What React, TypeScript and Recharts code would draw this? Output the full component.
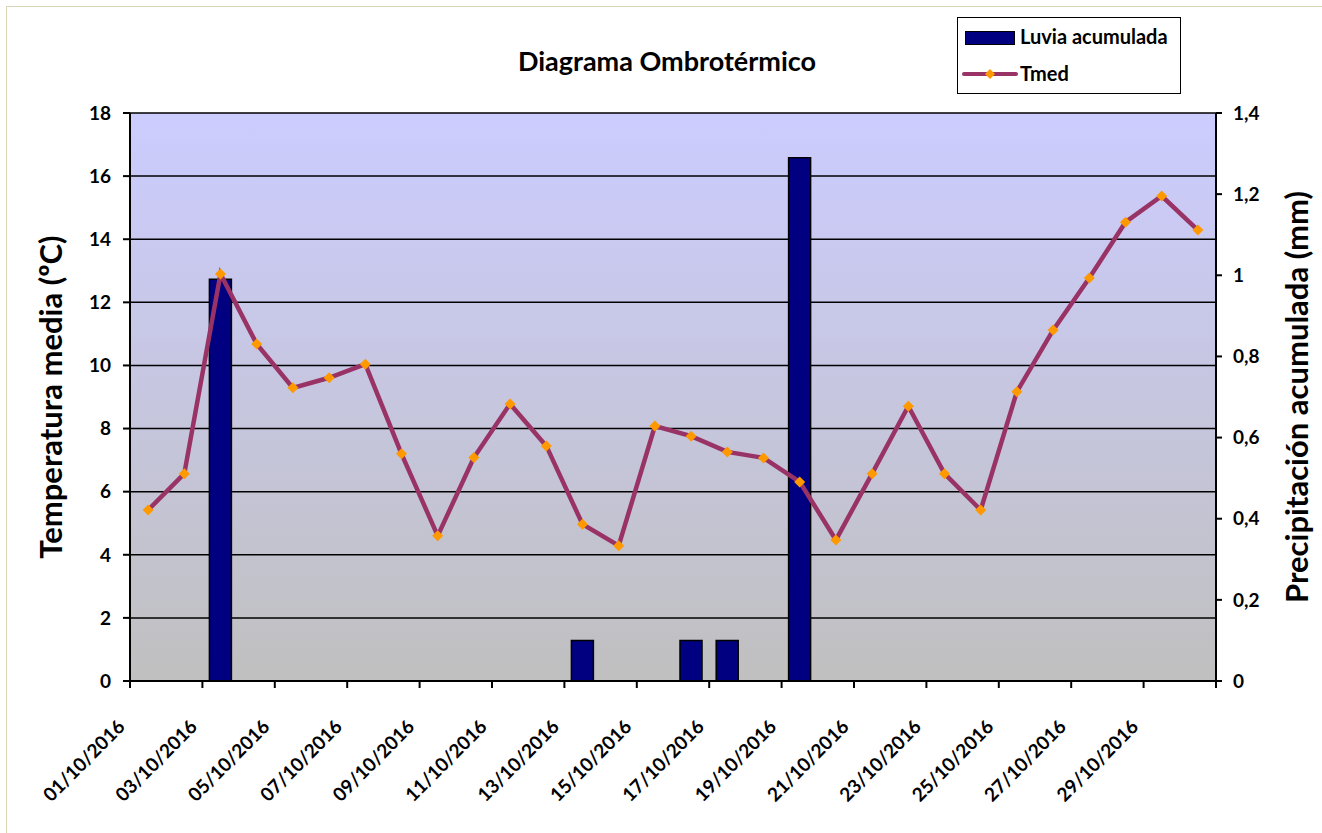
import React from "react";
import {
  ComposedChart,
  Bar,
  Line,
  XAxis,
  YAxis,
  CartesianGrid,
  Legend,
} from "recharts";

const dates = [
  "01/10/2016", "02/10/2016", "03/10/2016", "04/10/2016", "05/10/2016",
  "06/10/2016", "07/10/2016", "08/10/2016", "09/10/2016", "10/10/2016",
  "11/10/2016", "12/10/2016", "13/10/2016", "14/10/2016", "15/10/2016",
  "16/10/2016", "17/10/2016", "18/10/2016", "19/10/2016", "20/10/2016",
  "21/10/2016", "22/10/2016", "23/10/2016", "24/10/2016", "25/10/2016",
  "26/10/2016", "27/10/2016", "28/10/2016", "29/10/2016", "30/10/2016",
];

const tmed = [
  5.42, 6.57, 12.9, 10.68, 9.29, 9.61, 10.04, 7.2, 4.6, 7.08,
  8.78, 7.45, 4.97, 4.29, 8.08, 7.76, 7.26, 7.07, 6.31, 4.47,
  6.57, 8.71, 6.57, 5.42, 9.17, 11.12, 12.77, 14.54, 15.37, 14.29,
];

const lluvia = [
  0, 0, 0.99, 0, 0, 0, 0, 0, 0, 0,
  0, 0, 0.1, 0, 0, 0.1, 0.1, 0, 1.29, 0,
  0, 0, 0, 0, 0, 0, 0, 0, 0, 0,
];

const leftTicks = [0, 2, 4, 6, 8, 10, 12, 14, 16, 18];
const rightTicks = [0, 0.2, 0.4, 0.6, 0.8, 1, 1.2, 1.4];

const data = dates.map((d, i) => ({ date: d, tmed: tmed[i], lluvia: lluvia[i] }));

const FONT = "Lato, 'Open Sans', sans-serif";
const PLOT_LEFT = 130;
const PLOT_TOP = 113;
const PLOT_W = 1086;
const PLOT_H = 568;
const PLOT_BOTTOM = PLOT_TOP + PLOT_H;
const BAND = PLOT_W / dates.length;

const DateTick = (props: any) => {
  const { x, payload } = props;
  const index = props.index ?? payload.index;
  const left = x - BAND / 2;
  const bx = left - 4;
  const by = PLOT_BOTTOM + 47;
  return (
    <g>
      {index % 2 === 0 && (
        <>
          <line x1={left} y1={PLOT_BOTTOM} x2={left} y2={PLOT_BOTTOM + 7} stroke="#000" strokeWidth={2} />
          <text
            x={bx}
            y={by}
            textAnchor="end"
            transform={`rotate(-45, ${bx}, ${by})`}
            fontFamily={FONT}
            fontWeight={700}
            fontSize={19}
            fill="#000"
          >
            {payload.value}
          </text>
        </>
      )}
      {index === dates.length - 1 && (
        <line x1={x + BAND / 2} y1={PLOT_BOTTOM} x2={x + BAND / 2} y2={PLOT_BOTTOM + 7} stroke="#000" strokeWidth={2} />
      )}
    </g>
  );
};

const Diamond = (props: any) => {
  const { cx, cy } = props;
  if (cx == null || cy == null) return null;
  const r = 5.5;
  return (
    <polygon
      points={`${cx},${cy - r} ${cx + r},${cy} ${cx},${cy + r} ${cx - r},${cy}`}
      fill="#FF9900"
    />
  );
};

const renderLegend = () => (
  <div
    style={{
      width: 224,
      height: 77,
      border: "1.5px solid #000",
      background: "#fff",
      boxSizing: "border-box",
      fontFamily: FONT,
      fontWeight: 700,
      fontSize: 20,
      color: "#000",
      position: "relative",
    }}
  >
    <div style={{ position: "absolute", left: 7, top: 13, width: 48, height: 12, background: "#000080", border: "1.5px solid #000" }} />
    <div style={{ position: "absolute", left: 62, top: 6, whiteSpace: "nowrap" }}>Luvia acumulada</div>
    <svg style={{ position: "absolute", left: 4, top: 49 }} width={56} height={14}>
      <line x1={2} y1={7} x2={54} y2={7} stroke="#993366" strokeWidth={4} strokeLinecap="round" />
      <polygon points="28,2 33,7 28,12 23,7" fill="#FF9900" />
    </svg>
    <div style={{ position: "absolute", left: 62, top: 43 }}>Tmed</div>
  </div>
);

export default function App() {
  return (
    <div style={{ position: "fixed", left: 0, top: 0, width: 1322, height: 833, overflow: "hidden", background: "#fff" }}>
      <div style={{ position: "absolute", left: 6, top: 6, width: 1330, height: 840, border: "1px solid #D9D5B9" }} />
      <div
        style={{
          position: "absolute",
          left: PLOT_LEFT,
          top: PLOT_TOP,
          width: PLOT_W,
          height: PLOT_H,
          background: "linear-gradient(to bottom, #CCCCFF 0%, #C0C0C0 100%)",
        }}
      />
      <div
        style={{
          position: "absolute",
          left: 0,
          top: 44,
          width: 1334,
          textAlign: "center",
          fontFamily: FONT,
          fontWeight: 700,
          fontSize: 27,
          color: "#000",
        }}
      >
        Diagrama Ombrotérmico
      </div>
      <div style={{ position: "absolute", left: 0, top: 0 }}>
        <ComposedChart
          width={1322}
          height={833}
          data={data}
          margin={{ top: 113, right: 46, bottom: 52, left: 70 }}
        >
          <CartesianGrid yAxisId="left" vertical={false} stroke="#000" strokeWidth={1.5} />
          <XAxis
            dataKey="date"
            interval={0}
            tickLine={false}
            axisLine={{ stroke: "#000", strokeWidth: 2 }}
            tick={<DateTick />}
            height={100}
          />
          <YAxis
            yAxisId="left"
            orientation="left"
            domain={[0, 18]}
            ticks={leftTicks}
            width={60}
            tickSize={7}
            tickMargin={12}
            axisLine={{ stroke: "#000", strokeWidth: 2 }}
            tickLine={{ stroke: "#000", strokeWidth: 2 }}
            tick={{ fill: "#000", fontFamily: FONT, fontWeight: 700, fontSize: 19 }}
            label={{
              content: () => (
                <text
                  x={50}
                  y={397}
                  transform="rotate(-90, 50, 397)"
                  textAnchor="middle"
                  dominantBaseline="central"
                  fontFamily={FONT}
                  fontWeight={700}
                  fontSize={31}
                  fill="#000"
                >
                  Temperatura media (ºC)
                </text>
              ),
            }}
          />
          <YAxis
            yAxisId="right"
            orientation="right"
            domain={[0, 1.4]}
            ticks={rightTicks}
            width={60}
            tickSize={6}
            tickMargin={11}
            axisLine={{ stroke: "#000", strokeWidth: 2 }}
            tickLine={{ stroke: "#000", strokeWidth: 2 }}
            tickFormatter={(v: number) => String(v).replace(".", ",")}
            tick={{ fill: "#000", fontFamily: FONT, fontWeight: 700, fontSize: 19, textAnchor: "start" }}
            label={{
              content: () => (
                <text
                  x={1296}
                  y={397}
                  transform="rotate(-90, 1296, 397)"
                  textAnchor="middle"
                  dominantBaseline="central"
                  fontFamily={FONT}
                  fontWeight={700}
                  fontSize={31}
                  fill="#000"
                >
                  Precipitación acumulada (mm)
                </text>
              ),
            }}
          />
          <Legend
            layout="vertical"
            align="center"
            verticalAlign="middle"
            content={renderLegend}
            wrapperStyle={{ position: "absolute", left: 957, top: 17, width: 224, height: 77 }}
          />
          <Bar
            yAxisId="right"
            dataKey="lluvia"
            name="Luvia acumulada"
            fill="#000080"
            stroke="#000"
            strokeWidth={1.5}
            barSize={22}
            isAnimationActive={false}
          />
          <Line
            yAxisId="left"
            dataKey="tmed"
            name="Tmed"
            type="linear"
            stroke="#993366"
            strokeWidth={4.5}
            dot={<Diamond />}
            activeDot={false}
            isAnimationActive={false}
          />
        </ComposedChart>
      </div>
    </div>
  );
}
